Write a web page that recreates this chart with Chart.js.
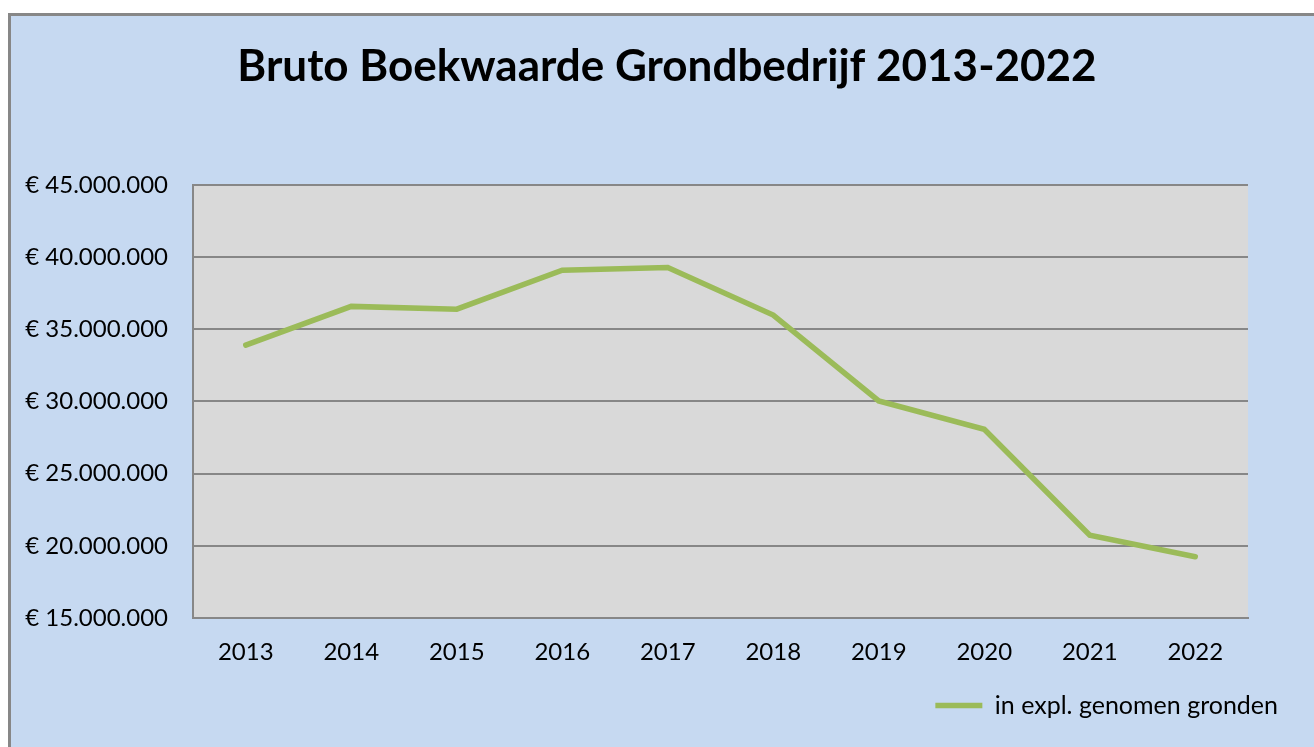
<!DOCTYPE html>
<html>
<head>
<meta charset="utf-8">
<script src="https://cdn.jsdelivr.net/npm/chart.js@4/dist/chart.umd.min.js"></script>
<style>
  html, body { margin: 0; padding: 0; background: #fff; }
  #wrap { width: 1314px; height: 747px; }
</style>
</head>
<body>
<div id="wrap"><canvas id="boekwaarde" width="1314" height="747"></canvas></div>
<script>
/* Bruto Boekwaarde Grondbedrijf */
const years = ['2013', '2014', '2015', '2016', '2017', '2018', '2019', '2020', '2021', '2022'];
const inExploitatie = [33900000, 36580000, 36390000, 39080000, 39270000, 35980000, 30030000, 28070000, 20740000, 19240000];
const yTicks = [15000000, 20000000, 25000000, 30000000, 35000000, 40000000, 45000000];

const FONT = 'Lato, Calibri, "Open Sans", sans-serif';
const GREEN = '#9BBB59';
const GRID = '#878787';

function euro(v) {
  return '€ ' + String(v).replace(/\B(?=(\d{3})+(?!\d))/g, '.');
}

// light blue frame behind everything, grey plot area
const background = {
  id: 'background',
  afterLayout(chart) {
    // legend sits a bit in from the right edge, title stays centred
    if (chart.legend) chart.legend.right -= 26;
  },
  beforeDraw(chart) {
    const ctx = chart.ctx;
    const a = chart.chartArea;
    ctx.save();
    ctx.fillStyle = '#fff';
    ctx.fillRect(0, 0, chart.width, chart.height);
    ctx.fillStyle = '#C6D9F1';
    ctx.fillRect(9, 14, chart.width, chart.height);
    ctx.strokeStyle = GRID;
    ctx.lineWidth = 3;
    ctx.beginPath();
    ctx.moveTo(9.5, chart.height);
    ctx.lineTo(9.5, 14.5);
    ctx.lineTo(chart.width, 14.5);
    ctx.stroke();
    ctx.fillStyle = '#D9D9D9';
    ctx.fillRect(a.left, a.top, a.right - a.left, a.bottom - a.top);
    ctx.restore();
  }
};

new Chart(document.getElementById('boekwaarde'), {
  type: 'line',
  data: {
    labels: years,
    datasets: [{
      label: 'in expl. genomen gronden',
      data: inExploitatie,
      borderColor: GREEN,
      backgroundColor: GREEN,
      borderWidth: 5.5,
      borderCapStyle: 'round',
      pointRadius: 0,
      tension: 0
    }]
  },
  options: {
    responsive: false,
    animation: false,
    layout: { padding: { left: 20, top: 0, right: 0, bottom: 19 } },
    plugins: {
      title: {
        display: true,
        text: 'Bruto Boekwaarde Grondbedrijf 2013-2022',
        color: '#000',
        font: { family: FONT, size: 44, weight: 'bold', lineHeight: 1.2 },
        padding: { top: 40, bottom: 92 }
      },
      legend: {
        position: 'bottom',
        align: 'end',
        labels: {
          color: '#000',
          font: { family: FONT, size: 25 },
          usePointStyle: true,
          pointStyle: 'line',
          pointStyleWidth: 47,
          padding: 10
        }
      },
      tooltip: { enabled: false }
    },
    scales: {
      x: {
        offset: true,
        grid: { display: false, drawTicks: false },
        border: { color: GRID, width: 2 },
        ticks: { color: '#000', font: { family: FONT, size: 24 }, padding: 20, maxRotation: 0 },
        afterFit: s => { s.height = 65; }
      },
      y: {
        min: 15000000,
        max: 45000000,
        afterBuildTicks: s => { s.ticks = yTicks.map(v => ({ value: v })); },
        grid: { color: GRID, lineWidth: 2, drawTicks: false },
        border: { color: GRID, width: 2 },
        ticks: { color: '#000', font: { family: FONT, size: 24 }, padding: 25, callback: v => euro(v) },
        afterFit: s => { s.width = 173; }
      },
      yRight: {
        position: 'right',
        grid: { display: false, drawTicks: false },
        border: { display: false },
        ticks: { display: false },
        afterFit: s => { s.width = 66; }
      }
    }
  },
  plugins: [background]
});
</script>
</body>
</html>
